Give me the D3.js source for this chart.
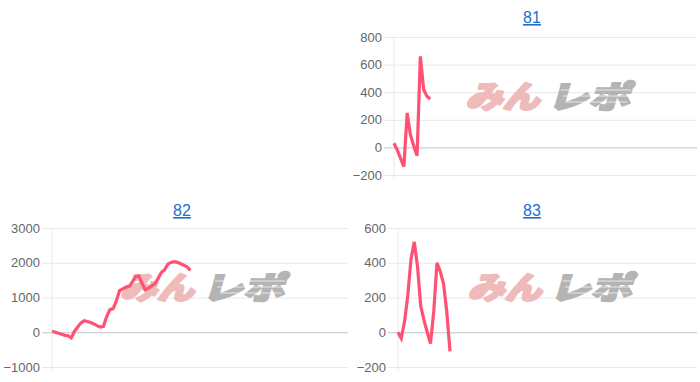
<!DOCTYPE html>
<html>
<head>
<meta charset="utf-8">
<script src="https://cdn.jsdelivr.net/npm/d3@7"></script>
<style>
    html, body { margin: 0; padding: 0; background: #ffffff; }
    svg { display: block; }
</style>
</head>
<body>
<div id="chart"></div>
<script>
// number of x slots on every chart (line only fills the first part)
const xSlots = 93;

const titles = ["81", "82", "83"];

// values, one per slot
const series81 = [30, -20, -80, -140, 250, 90, 10, -60, 660, 420, 370, 350];
const series82 = [30, 0, -30, -60, -90, -100, -160, 30, 150, 270, 330, 310, 280, 240, 190,
    150, 170, 450, 650, 680, 900, 1200, 1250, 1300, 1320, 1450, 1600, 1620, 1400, 1220,
    1270, 1330, 1400, 1550, 1720, 1800, 1960, 2010, 2030, 2010, 1970, 1930, 1880, 1780];
const series83 = [0, -35, 60, 210, 420, 520, 380, 150, 70, 0, -65, 120, 400, 350, 280, 120, -110];

const ticks81 = [-200, 0, 200, 400, 600, 800];
const ticks82 = [-1000, 0, 1000, 2000, 3000];
const ticks83 = [-200, 0, 200, 400, 600];

const watermarkLeft = "みん";
const watermarkRight = "レポ";

const width = 700;
const height = 382;

const svg = d3.select("#chart")
    .append("svg")
    .attr("width", width)
    .attr("height", height);

// Function to draw one small chart
function renderSmallChart(cfg) {
    const g = svg.append("g")
        .attr("transform", `translate(${cfg.x},${cfg.y})`);

    const xScale = d3.scaleLinear()
        .domain([0, xSlots - 1])
        .range([cfg.left, cfg.right]);

    const yScale = d3.scaleLinear()
        .domain(d3.extent(cfg.ticks))
        .range([cfg.bottom, cfg.top]);

    // title link
    g.append("text")
        .attr("x", 182)
        .attr("y", cfg.titleY)
        .attr("text-anchor", "middle")
        .style("font-family", "'Liberation Sans', Arial, sans-serif")
        .style("font-size", "16px")
        .style("fill", "#1a6fd1")
        .style("text-decoration", "underline")
        .text(cfg.title);

    // grid lines + y axis (ticks stick out 10px left of the plot)
    const yAxis = d3.axisLeft(yScale)
        .tickValues(cfg.ticks)
        .tickFormat(d3.format("d"))
        .tickSize(0)
        .tickPadding(3);

    const axisG = g.append("g")
        .attr("transform", `translate(${cfg.left - 10},0)`)
        .call(yAxis);

    axisG.select(".domain").remove();
    axisG.selectAll(".tick line")
        .attr("x1", 0)
        .attr("x2", cfg.right - cfg.left + 10)
        .attr("stroke", d => d === 0 ? "#c4c4c4" : "#e8e8e8")
        .attr("stroke-width", 1);
    axisG.selectAll(".tick text")
        .attr("x", -2)
        .style("font-family", "'Liberation Sans', Arial, sans-serif")
        .style("font-size", "13px")
        .style("fill", "#666666");

    // left axis line
    g.append("line")
        .attr("x1", cfg.left)
        .attr("x2", cfg.left)
        .attr("y1", cfg.top)
        .attr("y2", cfg.bottom + 4)
        .attr("stroke", "#e8e8e8");

    // watermark
    const cx = (cfg.left + cfg.right) / 2;
    const wy = cfg.top + 71;
    const wm = g.append("g")
        .attr("transform", `translate(${cx},${wy}) skewX(-16)`)
        .style("font-family", "'Noto Sans CJK JP', sans-serif")
        .style("font-weight", 900)
        .style("font-size", "31px")
        .style("stroke-width", 2.2)
        .style("stroke-linejoin", "round");
    wm.append("text")
        .attr("x", -80)
        .attr("textLength", 74)
        .attr("lengthAdjust", "spacingAndGlyphs")
        .style("fill", "#efbaba")
        .style("stroke", "#efbaba")
        .text(watermarkLeft);
    wm.append("text")
        .attr("x", 2)
        .attr("textLength", 82)
        .attr("lengthAdjust", "spacingAndGlyphs")
        .style("fill", "#b4b4b4")
        .style("stroke", "#b4b4b4")
        .text(watermarkRight);
    // speed streaks across the grey half
    [-18, -12, -6].forEach((dy, i) => {
        wm.append("line")
            .attr("x1", 10 + i * 4)
            .attr("x2", 80)
            .attr("y1", dy)
            .attr("y2", dy)
            .attr("stroke", "#ffffff")
            .attr("stroke-opacity", 0.7)
            .attr("stroke-width", 1.2);
    });

    // data line
    const line = d3.line()
        .x((d, i) => xScale(i))
        .y(d => yScale(d));

    g.append("path")
        .datum(cfg.values)
        .attr("fill", "none")
        .attr("stroke", "#ff5173")
        .attr("stroke-width", 3.2)
        .attr("stroke-linejoin", "miter")
        .attr("d", line);
}

renderSmallChart({ title: titles[0], values: series81, ticks: ticks81,
    x: 350, y: 0, left: 44, right: 347, top: 37, bottom: 175, titleY: 23 });
renderSmallChart({ title: titles[1], values: series82, ticks: ticks82,
    x: 0, y: 195, left: 52, right: 348, top: 33, bottom: 172, titleY: 21 });
renderSmallChart({ title: titles[2], values: series83, ticks: ticks83,
    x: 350, y: 195, left: 48, right: 347, top: 33, bottom: 172, titleY: 21 });
</script>
</body>
</html>
